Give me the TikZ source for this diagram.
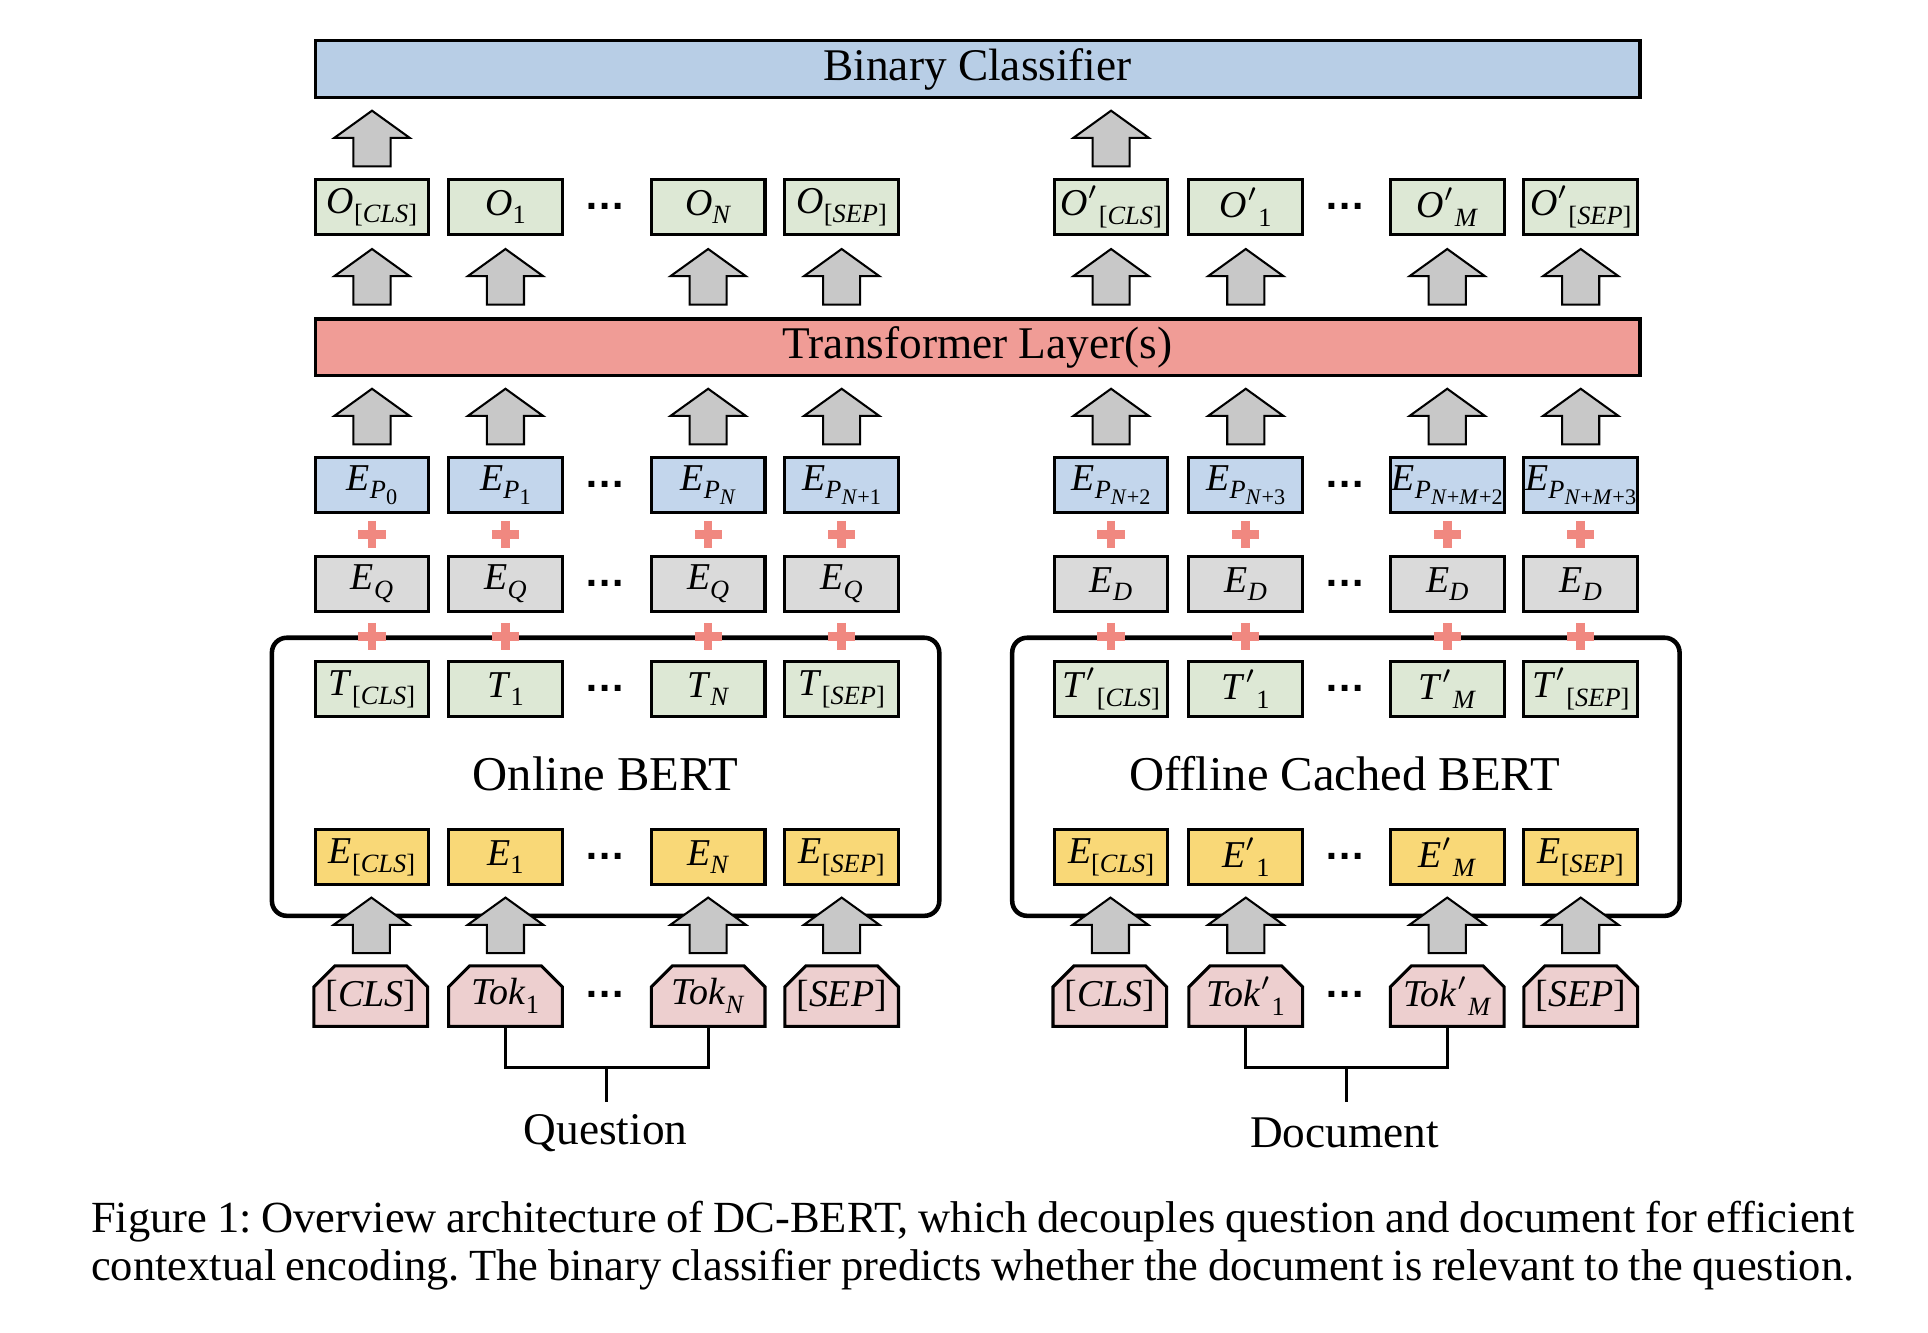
\documentclass[tikz,border=0pt]{standalone}
\usepackage{fontspec}
\setmainfont{Liberation Serif}
\newfontfamily\dotfont{Liberation Sans}
\usetikzlibrary{calc,shapes.misc}

\definecolor{bcblue}{HTML}{B8CEE6}
\definecolor{epblue}{HTML}{C3D6EC}
\definecolor{trred}{HTML}{F09C96}
\definecolor{ogreen}{HTML}{DDE8D5}
\definecolor{eqgray}{HTML}{DADADA}
\definecolor{eyellow}{HTML}{F9D877}
\definecolor{tokpink}{HTML}{EDCFCF}
\definecolor{arrgray}{HTML}{C8C8C8}
\definecolor{plusred}{HTML}{F08880}

\newcommand{\mi}[1]{\textit{#1}}
\newcommand{\sbx}[1]{\raisebox{-2.1pt}{\fontsize{6.4}{7}\selectfont #1}}
\newcommand{\ssbx}[1]{\raisebox{-1.4pt}{\fontsize{5.4}{6}\selectfont #1}}
\newcommand{\prm}{\ensuremath{'}}

\tikzset{
  cell/.style={draw, line width=0.75pt, minimum width=27.6pt, minimum height=13.5pt,
    inner sep=0pt, font=\fontsize{9.2}{10}\selectfont},
  ocell/.style={cell, fill=ogreen},
  pcell/.style={cell, fill=epblue},
  qcell/.style={cell, fill=eqgray},
  ecell/.style={cell, fill=eyellow},
  tokcell/.style={draw, line width=0.75pt, fill=tokpink, chamfered rectangle,
    chamfered rectangle corners={north west,north east},
    chamfered rectangle xsep=2.7pt, chamfered rectangle ysep=2.4pt,
    minimum width=27.6pt, minimum height=14.7pt, inner sep=0pt,
    font=\fontsize{9.2}{10}\selectfont},
  bar/.style={draw, line width=0.8pt, minimum width=321.6pt, minimum height=13.8pt,
    inner sep=0pt, font=\fontsize{11}{13}\selectfont},
  bertbox/.style={draw, line width=1.1pt, rounded corners=3.6pt,
    minimum width=162pt, minimum height=67.5pt, inner sep=0pt},
  bigtext/.style={inner sep=0pt, font=\fontsize{11.8}{14}\selectfont},
  labtext/.style={inner sep=0pt, font=\fontsize{11}{13}\selectfont},
  dots/.style={inner sep=0pt, font=\dotfont\bfseries\fontsize{10}{11}\selectfont},
  joinline/.style={line width=0.7pt},
  captext/.style={anchor=base west, inner sep=0pt, font=\fontsize{10.8}{13}\selectfont},
  uparrow/.pic={\draw[line width=0.5pt, fill=arrgray, line join=miter]
     (-15,22.5) -- (-15,-0.5) -- (-30.5,-0.5) -- (0,-22.5) -- (30.5,-0.5)
     -- (15,-0.5) -- (15,22.5) -- cycle;},
  plussign/.pic={\draw[line width=2.1pt, plusred]
     (-11,0) -- (11,0) (0,-11) -- (0,11);}
}

\begin{document}
\begin{tikzpicture}[x=0.3pt,y=-0.3pt]
\useasboundingbox (0,0) rectangle (1560,1078);

% bars
\node[bar, fill=bcblue] (bc) at (791,56) {Binary Classifier};
\node[bar, fill=trred] (tr) at (791,281) {Transformer Layer(s)};

% BERT boxes
\node[bertbox] (onl) at (490,628.5) {};
\node[bertbox] (off) at (1089,628.5) {};
\node[bigtext] (onlt) at (490,626) {Online BERT};
\node[bigtext] (offt) at (1088,626) {Offline Cached BERT};

% O row
\node[ocell] (oa) at (301,167.5) {\mi{O}\sbx{[\mi{CLS}]}};
\node[ocell] (ob) at (409,167.5) {\mi{O}\sbx{1}};
\node[ocell] (oc) at (573,167.5) {\mi{O}\sbx{\mi{N}}};
\node[ocell] (od) at (681,167.5) {\mi{O}\sbx{[\mi{SEP}]}};
\node[ocell] (oe) at (899,167.5) {\mi{O}\prm\sbx{[\mi{CLS}]}};
\node[ocell] (of) at (1008,167.5) {\mi{O}\prm\sbx{1}};
\node[ocell] (og) at (1171,167.5) {\mi{O}\prm\sbx{\mi{M}}};
\node[ocell] (oh) at (1279,167.5) {\mi{O}\prm\sbx{[\mi{SEP}]}};

% E_P row
\node[pcell] (pa) at (301,392.5) {\mi{E}\sbx{\mi{P}\ssbx{0}}};
\node[pcell] (pb) at (409,392.5) {\mi{E}\sbx{\mi{P}\ssbx{1}}};
\node[pcell] (pc) at (573,392.5) {\mi{E}\sbx{\mi{P}\ssbx{\mi{N}}}};
\node[pcell] (pd) at (681,392.5) {\mi{E}\sbx{\mi{P}\ssbx{\mi{N}+1}}};
\node[pcell] (pe) at (899,392.5) {\mi{E}\sbx{\mi{P}\ssbx{\mi{N}+2}}};
\node[pcell] (pf) at (1008,392.5) {\mi{E}\sbx{\mi{P}\ssbx{\mi{N}+3}}};
\node[pcell] (pg) at (1171,392.5) {\mi{E}\sbx{\mi{P}\ssbx{\mi{N}+\mi{M}+2}}};
\node[pcell] (ph) at (1279,392.5) {\mi{E}\sbx{\mi{P}\ssbx{\mi{N}+\mi{M}+3}}};

% E_Q / E_D row
\node[qcell] (qa) at (301,472.5) {\mi{E}\sbx{\mi{Q}}};
\node[qcell] (qb) at (409,472.5) {\mi{E}\sbx{\mi{Q}}};
\node[qcell] (qc) at (573,472.5) {\mi{E}\sbx{\mi{Q}}};
\node[qcell] (qd) at (681,472.5) {\mi{E}\sbx{\mi{Q}}};
\node[qcell] (qe) at (899,472.5) {\mi{E}\sbx{\mi{D}}};
\node[qcell] (qf) at (1008,472.5) {\mi{E}\sbx{\mi{D}}};
\node[qcell] (qg) at (1171,472.5) {\mi{E}\sbx{\mi{D}}};
\node[qcell] (qh) at (1279,472.5) {\mi{E}\sbx{\mi{D}}};

% T row
\node[ocell] (ta) at (301,557.5) {\mi{T}\sbx{[\mi{CLS}]}};
\node[ocell] (tb) at (409,557.5) {\mi{T}\sbx{1}};
\node[ocell] (tc) at (573,557.5) {\mi{T}\sbx{\mi{N}}};
\node[ocell] (td) at (681,557.5) {\mi{T}\sbx{[\mi{SEP}]}};
\node[ocell] (te) at (899,557.5) {\mi{T}\prm\sbx{[\mi{CLS}]}};
\node[ocell] (tf) at (1008,557.5) {\mi{T}\prm\sbx{1}};
\node[ocell] (tg) at (1171,557.5) {\mi{T}\prm\sbx{\mi{M}}};
\node[ocell] (th) at (1279,557.5) {\mi{T}\prm\sbx{[\mi{SEP}]}};

% E row (yellow)
\node[ecell] (ea) at (301,693.5) {\mi{E}\sbx{[\mi{CLS}]}};
\node[ecell] (eb) at (409,693.5) {\mi{E}\sbx{1}};
\node[ecell] (ec) at (573,693.5) {\mi{E}\sbx{\mi{N}}};
\node[ecell] (ed) at (681,693.5) {\mi{E}\sbx{[\mi{SEP}]}};
\node[ecell] (ee) at (899,693.5) {\mi{E}\sbx{[\mi{CLS}]}};
\node[ecell] (ef) at (1008,693.5) {\mi{E}\prm\sbx{1}};
\node[ecell] (eg) at (1171,693.5) {\mi{E}\prm\sbx{\mi{M}}};
\node[ecell] (eh) at (1279,693.5) {\mi{E}\sbx{[\mi{SEP}]}};

% token row
\node[tokcell] (ka) at (300,806) {[\mi{CLS}]};
\node[tokcell] (kb) at (409,806) {\mi{Tok}\sbx{1}};
\node[tokcell] (kc) at (573,806) {\mi{Tok}\sbx{\mi{N}}};
\node[tokcell] (kd) at (681,806) {[\mi{SEP}]};
\node[tokcell] (ke) at (898,806) {[\mi{CLS}]};
\node[tokcell] (kf) at (1008,806) {\mi{Tok}\prm\sbx{1}};
\node[tokcell] (kg) at (1171,806) {\mi{Tok}\prm\sbx{\mi{M}}};
\node[tokcell] (kh) at (1279,806) {[\mi{SEP}]};

% dots
\foreach \r/\y in {o/167,p/392,q/472,t/557,e/693,k/805}{
  \node[dots] (dl\r) at (490,\y) {…};
  \node[dots] (dr\r) at (1088,\y) {…};
}

% plus signs
\foreach \c in {a,b,c,d,e,f,g,h}{
  \pic at ($(p\c.south)!0.5!(q\c.north)$) {plussign};
  \pic at ($(q\c.south)!0.5!(t\c.north)$) {plussign};
}

% block arrows
\foreach \c in {a,e}{
  \pic at ($(o\c.north)!0.5!(o\c.north|-bc.south)$) {uparrow};
}
\foreach \c in {a,b,c,d,e,f,g,h}{
  \pic at ($(o\c.south)!0.5!(o\c.south|-tr.north)$) {uparrow};
  \pic at ($(p\c.north)!0.5!(p\c.north|-tr.south)$) {uparrow};
  \pic at ($(k\c.north)!0.5!(e\c.south)$) {uparrow};
}

% question / document joins
\node[labtext] (qst) at (490,917) {Question};
\node[labtext] (doc) at (1088,917) {Document};
\coordinate (qj) at ($(kb.south)!0.5!(kc.south)+(0,32)$);
\coordinate (dj) at ($(kf.south)!0.5!(kg.south)+(0,32)$);
\coordinate (qend) at ($(qj)+(0,28)$);
\coordinate (dend) at ($(dj)+(0,28)$);
\draw[joinline] (kb.south) -- (kb.south|-qj) -| (kc.south);
\draw[joinline] (qj) -- (qend);
\draw[joinline] (kf.south) -- (kf.south|-dj) -| (kg.south);
\draw[joinline] (dj) -- (dend);

% caption
\node[captext] (cap1) at (73,997)
  {\frenchspacing\makebox[428pt][s]{Figure 1: Overview architecture of DC-BERT, which decouples question and document for efficient}};
\node[captext] (cap2) at (73,1036)
  {\frenchspacing\makebox[428pt][s]{contextual encoding. The binary classifier predicts whether the document is relevant to the question.}};
\end{tikzpicture}
\end{document}
